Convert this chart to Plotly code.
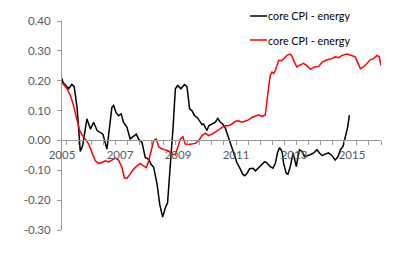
import plotly.graph_objects as go

# ---- data (decimal years, values) ----
black_x = [2005.0, 2005.03, 2005.23, 2005.34, 2005.42, 2005.52, 2005.57, 2005.63, 2005.71, 2005.86,
           2005.98, 2006.09, 2006.21, 2006.32, 2006.41, 2006.55, 2006.72, 2006.78, 2006.86, 2006.95,
           2007.04, 2007.12, 2007.24, 2007.35, 2007.47, 2007.56, 2007.64, 2007.76, 2007.87, 2007.99,
           2008.07, 2008.16, 2008.28, 2008.37, 2008.47, 2008.56, 2008.64, 2008.73, 2008.83, 2008.91,
           2008.99, 2009.10, 2009.22, 2009.31, 2009.40, 2009.48, 2009.57, 2009.66, 2009.73, 2009.83,
           2009.88, 2009.94, 2010.0, 2010.06, 2010.17, 2010.29, 2010.37, 2010.46, 2010.54, 2010.63,
           2010.72, 2010.80, 2010.92, 2011.03, 2011.15, 2011.23, 2011.30, 2011.38, 2011.47, 2011.59,
           2011.67, 2011.78, 2011.90, 2011.99, 2012.07, 2012.18, 2012.28, 2012.36, 2012.43, 2012.50,
           2012.59, 2012.64, 2012.73, 2012.79, 2012.87, 2012.97, 2013.02, 2013.08, 2013.14, 2013.19,
           2013.28, 2013.36, 2013.45, 2013.56, 2013.68, 2013.79, 2013.88, 2013.97, 2014.08, 2014.19,
           2014.31, 2014.42, 2014.52, 2014.60, 2014.69, 2014.74, 2014.79, 2014.85, 2014.91]
black_y = [0.207, 0.195, 0.173, 0.1875, 0.18, 0.11, 0.044, -0.037, -0.018, 0.072,
           0.038, 0.061, 0.033, 0.027, 0.021, -0.029, 0.111, 0.117, 0.094, 0.083,
           0.089, 0.061, 0.044, 0.005, 0.016, 0.021, 0.005, -0.007, -0.057, -0.063,
           -0.08, -0.09, -0.147, -0.214, -0.257, -0.226, -0.209, -0.102, 0.044, 0.173,
           0.184, 0.173, 0.1875, 0.18, 0.106, 0.10, 0.083, 0.077, 0.066, 0.053,
           0.055, 0.042, 0.033, 0.049, 0.055, 0.061, 0.074, 0.061, 0.055, 0.042,
           0.016, -0.007, -0.046, -0.074, -0.096, -0.113, -0.118, -0.11, -0.095, -0.093,
           -0.102, -0.093, -0.08, -0.071, -0.076, -0.088, -0.093, -0.076, -0.042, -0.024,
           -0.037, -0.076, -0.11, -0.113, -0.088, -0.042, -0.065, -0.088, -0.054, -0.031,
           -0.037, -0.054, -0.051, -0.048, -0.042, -0.031, -0.042, -0.051, -0.046, -0.042,
           -0.051, -0.066, -0.054, -0.031, -0.02, 0.0, 0.02, 0.044, 0.085]

red_x = [2005.0, 2005.06, 2005.17, 2005.29, 2005.38, 2005.46, 2005.54, 2005.61, 2005.69, 2005.80,
         2005.92, 2006.03, 2006.15, 2006.26, 2006.38, 2006.49, 2006.61, 2006.72, 2006.84, 2006.95,
         2007.07, 2007.15, 2007.24, 2007.35, 2007.47, 2007.59, 2007.70, 2007.81, 2007.91, 2007.99,
         2008.07, 2008.16, 2008.25, 2008.33, 2008.45, 2008.56, 2008.68, 2008.79, 2008.91, 2008.99,
         2009.08, 2009.17, 2009.25, 2009.37, 2009.48, 2009.60, 2009.71, 2009.83, 2009.94, 2010.06,
         2010.17, 2010.29, 2010.40, 2010.52, 2010.63, 2010.74, 2010.86, 2010.98, 2011.09, 2011.21,
         2011.32, 2011.43, 2011.55, 2011.67, 2011.78, 2011.90, 2012.01, 2012.07, 2012.12, 2012.18,
         2012.24, 2012.30, 2012.36, 2012.41, 2012.47, 2012.59, 2012.64, 2012.76, 2012.87, 2012.93,
         2013.01, 2013.10, 2013.22, 2013.33, 2013.45, 2013.57, 2013.70, 2013.85, 2013.97, 2014.14,
         2014.31, 2014.42, 2014.54, 2014.66, 2014.83, 2015.0, 2015.11, 2015.19, 2015.29, 2015.40,
         2015.52, 2015.63, 2015.74, 2015.86, 2015.94, 2016.0]
red_y = [0.192, 0.1875, 0.173, 0.15, 0.123, 0.089, 0.055, 0.033, 0.019, 0.005,
         -0.012, -0.04, -0.068, -0.077, -0.074, -0.068, -0.072, -0.066, -0.059, -0.066,
         -0.091, -0.125, -0.127, -0.113, -0.096, -0.085, -0.077, -0.085, -0.091, -0.068,
         -0.035, -0.001, 0.005, -0.021, -0.029, -0.032, -0.035, -0.046, -0.048, -0.024,
         0.005, 0.012, -0.012, -0.014, -0.012, -0.01, -0.001, 0.016, 0.024, 0.016,
         0.021, 0.027, 0.035, 0.044, 0.049, 0.049, 0.055, 0.064, 0.066, 0.061,
         0.064, 0.069, 0.077, 0.083, 0.086, 0.08, 0.085, 0.134, 0.178, 0.218,
         0.229, 0.224, 0.235, 0.251, 0.268, 0.268, 0.274, 0.285, 0.289, 0.282,
         0.263, 0.246, 0.253, 0.258, 0.25, 0.238, 0.246, 0.248, 0.262, 0.27,
         0.274, 0.28, 0.277, 0.285, 0.289, 0.285, 0.28, 0.263, 0.24, 0.246,
         0.257, 0.27, 0.274, 0.285, 0.28, 0.251]

series_names = ["core CPI - energy", "core CPI - energy"]
series_colors = ["#000000", "#FF0000"]

x_label_years = [2005, 2007, 2009, 2011, 2013, 2015]
y_tick_vals = [-0.3, -0.2, -0.1, 0.0, 0.1, 0.2, 0.3, 0.4]
y_tick_text = ["-0.30", "-0.20", "-0.10", "0.00", "0.10", "0.20", "0.30", "0.40"]
tick_mark_months = list(range(2, 133, 5))  # tick marks every 5 months

X_MIN, X_MAX = 2005, 2016
Y_MIN, Y_MAX = -0.3, 0.4

FONT = "Lato"
GRAY = "#595959"
AXIS = "#9a9a9a"

fig = go.Figure()
fig.add_trace(go.Scatter(x=black_x, y=black_y, mode="lines", name=series_names[0],
                         line=dict(color=series_colors[0], width=1.5), xaxis="x"))
fig.add_trace(go.Scatter(x=red_x, y=red_y, mode="lines", name=series_names[1],
                         line=dict(color=series_colors[1], width=1.5), xaxis="x2"))

zero_pos = (0 - Y_MIN) / (Y_MAX - Y_MIN)

fig.update_layout(
    width=400, height=268,
    margin=dict(l=62, r=19, t=21, b=38),
    paper_bgcolor="white", plot_bgcolor="white",
    showlegend=False,
    xaxis=dict(range=[X_MIN, X_MAX], anchor="free", position=zero_pos,
               showline=True, linecolor=AXIS, linewidth=1,
               tickmode="array", tickvals=[X_MIN + m / 12 for m in tick_mark_months],
               ticktext=["" for _ in tick_mark_months],
               ticks="outside", ticklen=4, tickcolor=AXIS, showgrid=False, zeroline=False),
    xaxis2=dict(range=[X_MIN, X_MAX], overlaying="x", anchor="free", position=zero_pos,
                side="bottom", showline=False, ticks="",
                tickmode="array", tickvals=x_label_years, ticktext=[str(v) for v in x_label_years],
                ticklabelstandoff=6,
                tickfont=dict(family=FONT, size=11.5, color=GRAY), showgrid=False, zeroline=False),
    yaxis=dict(range=[Y_MIN, Y_MAX], showline=True, linecolor=AXIS, linewidth=1,
               tickmode="array", tickvals=y_tick_vals, ticktext=y_tick_text,
               ticks="outside", ticklen=4, tickcolor=AXIS, ticklabelstandoff=4,
               tickfont=dict(family=FONT, size=11.5, color=GRAY),
               showgrid=False, zeroline=False),
)

# legend drawn in paper coordinates
leg_rows_px = [16, 40]
for name, color, ypx in zip(series_names, series_colors, leg_rows_px):
    yp = 1 - (ypx - 21) / (268 - 21 - 38)
    x0 = (250 - 62) / (400 - 62 - 19)
    x1 = (267 - 62) / (400 - 62 - 19)
    fig.add_shape(type="line", xref="paper", yref="paper", x0=x0, x1=x1, y0=yp, y1=yp,
                  line=dict(color=color, width=1.5))
    fig.add_annotation(xref="paper", yref="paper", x=x1, y=yp, text=name, showarrow=False,
                       xanchor="left", yanchor="middle", xshift=-1,
                       font=dict(family=FONT, size=10.8, color="#000000"))

fig.write_html("out.html")
